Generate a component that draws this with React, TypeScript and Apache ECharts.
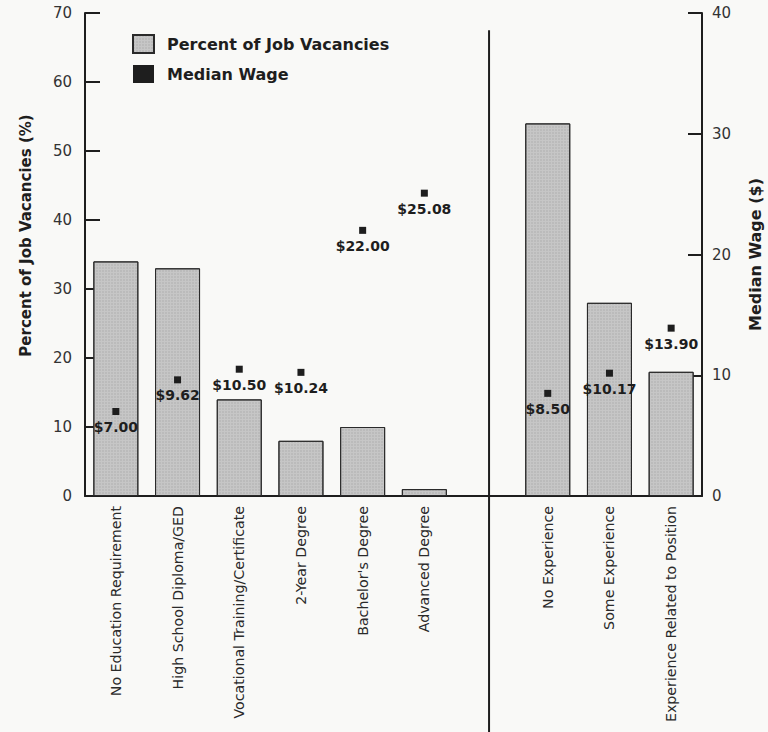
import React, { useEffect, useRef } from "react";
import * as echarts from "echarts";

const categories = [
  "No Education Requirement",
  "High School Diploma/GED",
  "Vocational Training/Certificate",
  "2-Year Degree",
  "Bachelor's Degree",
  "Advanced Degree",
  "",
  "No Experience",
  "Some Experience",
  "Experience Related to Position",
];
const vacancyPct: (number | string)[] = [34, 33, 14, 8, 10, 1, "-", 54, 28, 18];
const medianWage: (number | string)[] = [7.0, 9.62, 10.5, 10.24, 22.0, 25.08, "-", 8.5, 10.17, 13.9];
const leftTicks = { min: 0, max: 70, interval: 10 };
const rightTicks = { min: 0, max: 40, interval: 10 };
const gapIndex = 6;

const FONT = "'DejaVu Sans', 'Open Sans', sans-serif";
const INK = "#1e1e1e";

export default function App() {
  const ref = useRef<HTMLDivElement>(null);
  useEffect(() => {
    if (!ref.current) return;
    const chart = echarts.init(ref.current, null, { renderer: "svg" });
    chart.setOption({
      animation: false,
      backgroundColor: "#f9f9f7",
      textStyle: { fontFamily: FONT },
      grid: { left: 85, right: 66, top: 13, bottom: 236, containLabel: false, outerBoundsMode: "none" },
      legend: {
        orient: "vertical",
        left: 127,
        top: 29,
        itemWidth: 21,
        itemHeight: 18,
        itemGap: 11,
        textStyle: { fontFamily: FONT, fontWeight: "bold", fontSize: 16, color: INK, padding: [0, 0, 0, 8] },
        data: [
          { name: "Percent of Job Vacancies", icon: "rect" },
          { name: "Median Wage", icon: "rect", itemStyle: { color: INK } },
        ],
      },
      xAxis: {
        type: "category",
        data: categories,
        axisLine: { lineStyle: { color: INK, width: 2 } },
        axisTick: { inside: true, length: 8, lineStyle: { color: INK, width: 2 } },
        axisLabel: { rotate: 90, fontSize: 14.2, color: "#2a2a2a", margin: 10, interval: 0, fontFamily: FONT },
      },
      yAxis: [
        {
          type: "value",
          ...leftTicks,
          name: "Percent of Job Vacancies (%)",
          nameLocation: "middle",
          nameGap: 52,
          nameTextStyle: { fontWeight: "bold", fontSize: 15, color: INK, fontFamily: FONT, padding: [0, 0, 0, 38] },
          axisLine: { show: true, lineStyle: { color: INK, width: 2 } },
          axisTick: { show: true, inside: true, length: 15, lineStyle: { color: INK, width: 2 } },
          axisLabel: { fontSize: 15, color: "#333", margin: 13 },
          splitLine: { show: false },
        },
        {
          type: "value",
          ...rightTicks,
          position: "right",
          name: "Median Wage ($)",
          nameLocation: "middle",
          nameGap: 45,
          nameTextStyle: { fontWeight: "bold", fontSize: 16, color: INK, fontFamily: FONT },
          axisLine: { show: true, lineStyle: { color: INK, width: 2 } },
          axisTick: { show: true, inside: true, length: 14, lineStyle: { color: INK, width: 2 } },
          axisLabel: { fontSize: 15, color: "#333", margin: 10 },
          splitLine: { show: false },
        },
      ],
      series: [
        {
          name: "Percent of Job Vacancies",
          type: "bar",
          data: vacancyPct,
          barWidth: 45,
          itemStyle: {
            color: "#c6c6c6",
            borderColor: "#2a2a2a",
            borderWidth: 1,
            decal: {
              symbol: "rect",
              symbolSize: 0.6,
              dashArrayX: [2, 1],
              dashArrayY: [2, 1],
              color: "rgba(90,90,90,0.35)",
            },
          },
        },
        {
          name: "Median Wage",
          type: "scatter",
          yAxisIndex: 1,
          data: medianWage,
          symbol: "rect",
          symbolSize: 7,
          itemStyle: { color: INK, opacity: 1 },
          z: 5,
          label: {
            show: true,
            position: "bottom",
            distance: 5,
            fontSize: 14,
            fontWeight: "bold",
            color: INK,
            fontFamily: FONT,
            formatter: (p: any) => "$" + Number(p.value).toFixed(2),
          },
        },
      ],
    });
    const gx = chart.convertToPixel({ xAxisIndex: 0 }, gapIndex) as number;
    const gTop = chart.convertToPixel({ yAxisIndex: 0 }, 67.5) as number;
    chart.setOption({
      graphic: [
        {
          type: "line",
          shape: { x1: gx + 3, y1: gTop, x2: gx + 3, y2: chart.getHeight() },
          style: { stroke: INK, lineWidth: 2 },
          z: 10,
        },
      ],
    });
    return () => chart.dispose();
  }, []);
  return (
    <div
      ref={ref}
      style={{ position: "fixed", left: 0, top: 0, width: 768, height: 732 }}
    />
  );
}
